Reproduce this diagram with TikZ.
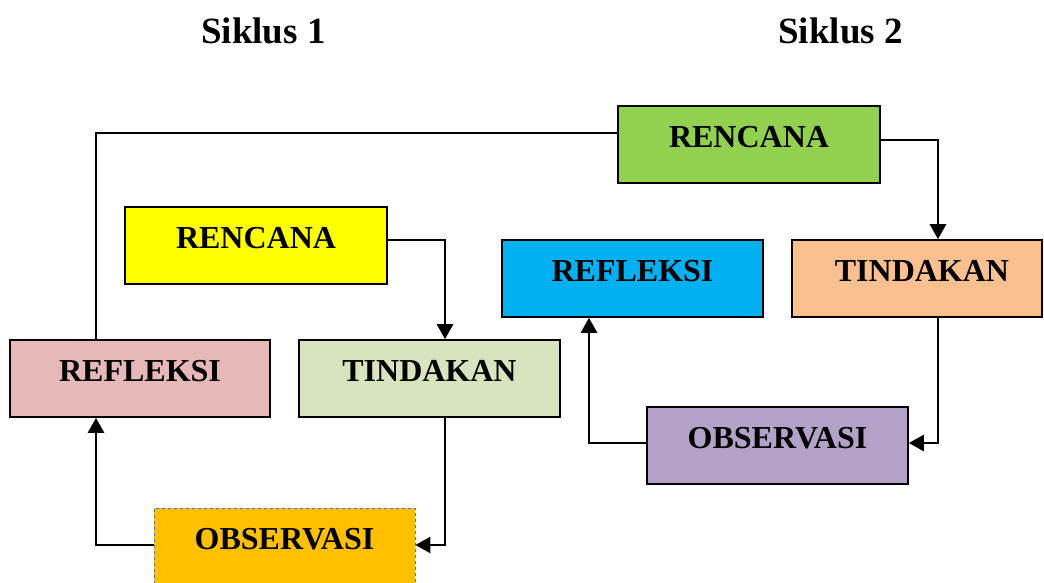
\documentclass[tikz,border=0pt]{standalone}
\usepackage{fontspec}
\setmainfont{Liberation Serif}
\usetikzlibrary{arrows.meta}
\definecolor{cRenA}{HTML}{92D050}
\definecolor{cRenB}{HTML}{FFFF00}
\definecolor{cRefB}{HTML}{00B0F0}
\definecolor{cTinB}{HTML}{FAC090}
\definecolor{cRefA}{HTML}{E6B9B8}
\definecolor{cTinA}{HTML}{D7E4BD}
\definecolor{cObsB}{HTML}{B3A2C7}
\definecolor{cObsA}{HTML}{FFC000}
\definecolor{cDash}{HTML}{5A7398}
\tikzset{
  box/.style={draw=black, line width=1.6pt, minimum height=77pt, inner sep=0pt,
    font=\fontsize{32}{38}\selectfont\bfseries, text height=22pt, text depth=16pt},
  arr/.style={line width=2.6pt, -{Triangle[length=15pt,width=16pt]}},
  plain/.style={line width=1.5pt},
  title/.style={font=\fontsize{37}{44}\selectfont\bfseries, inner sep=0pt}
}
\begin{document}
\begin{tikzpicture}[x=1pt,y=-1pt]
\useasboundingbox (0,0) rectangle (1044,583);
\node[title] (s1) at (263.5,31) {Siklus 1};
\node[title] (s2) at (840.5,31) {Siklus 2};
\node[box, fill=cRenA, minimum width=262pt] (ren2) at (749,144.5) {RENCANA};
\node[box, fill=cRenB, minimum width=262pt] (ren1) at (256,245.5) {RENCANA};
\node[box, fill=cRefB, minimum width=261pt] (ref2) at (632.5,278.5) {REFLEKSI};
\node[box, fill=cTinB, minimum width=250pt, text width=248pt, align=center] (tin2) at (917,278.5) {\hspace*{10pt}TINDAKAN};
\node[box, fill=cRefA, minimum width=260pt] (ref1) at (140,378.5) {REFLEKSI};
\node[box, fill=cTinA, minimum width=261pt] (tin1) at (429.5,378.5) {TINDAKAN};
\node[box, fill=cObsB, minimum width=261pt] (obs2) at (777.5,445.5) {OBSERVASI};
\node[box, fill=cObsA, draw=cDash, line width=0.8pt, dashed, minimum width=261pt] (obs1) at (284.5,546.5) {OBSERVASI};
\draw[arr] ([yshift=5.5pt]ren1.east) -| ([xshift=15.5pt]tin1.north);
\draw[arr] ([xshift=15.5pt]tin1.south) |- ([yshift=1.5pt]obs1.east);
\draw[arr] ([yshift=1.5pt]obs1.west) -| ([xshift=-44pt]ref1.south);
\draw[plain] ([xshift=-44pt]ref1.north) |- ([yshift=11.5pt]ren2.west);
\draw[arr] ([yshift=4.5pt]ren2.east) -| ([xshift=21pt]tin2.north);
\draw[arr] ([xshift=21pt]tin2.south) |- ([yshift=2.5pt]obs2.east);
\draw[arr] ([yshift=2.5pt]obs2.west) -| ([xshift=-43.5pt]ref2.south);
\end{tikzpicture}
\end{document}
